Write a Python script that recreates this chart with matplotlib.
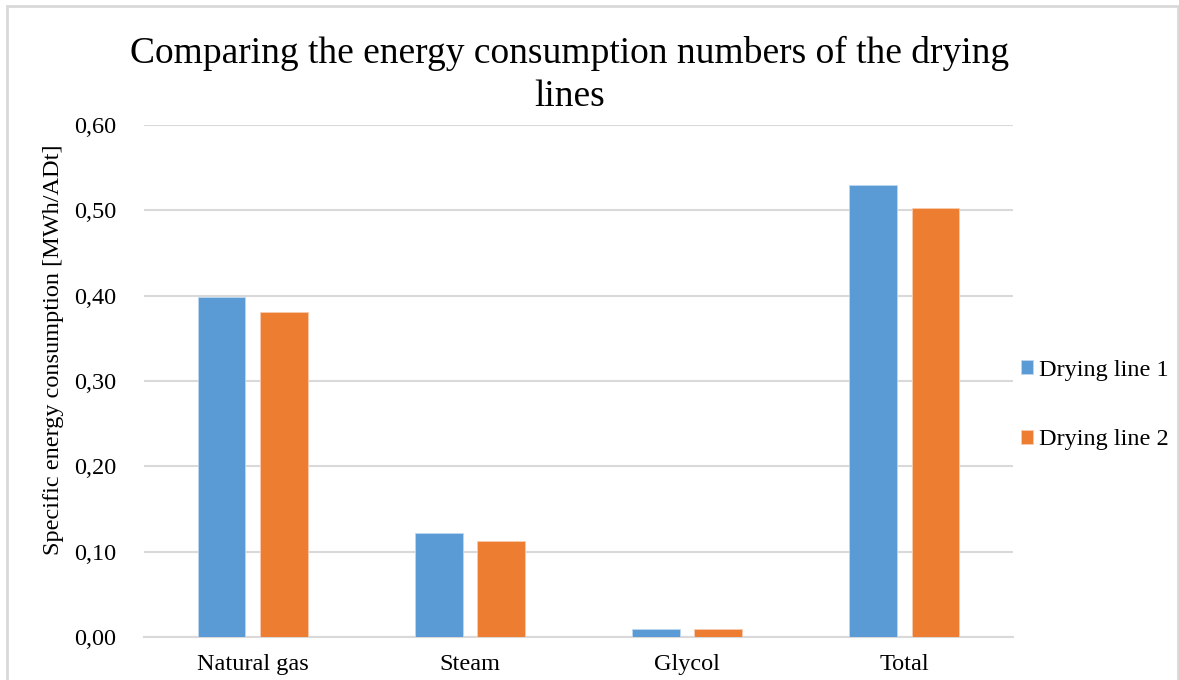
import matplotlib
matplotlib.use("Agg")
import matplotlib.pyplot as plt
from matplotlib.patches import Rectangle
import numpy as np

# Specific energy consumption per drying line, MWh/ADt
categories = ["Natural gas", "Steam", "Glycol", "Total"]
line_1 = [0.398, 0.122, 0.0094, 0.530]
line_2 = [0.381, 0.1125, 0.0095, 0.503]
series_names = ["Drying line 1", "Drying line 2"]
y_ticks = [0.0, 0.1, 0.2, 0.3, 0.4, 0.5, 0.6]

BLUE = "#5B9BD5"
ORANGE = "#ED7D31"
GRID = "#D9D9D9"
FS = 17.5

plt.rcParams["font.family"] = ["Liberation Serif", "DejaVu Serif"]

fig = plt.figure(figsize=(11.79, 6.8), dpi=100)
ax = fig.add_axes([144 / 1179, 43 / 680, 869 / 1179, 512 / 680])

x = np.arange(len(categories))
width = 0.22
offset = 0.143
ax.bar(x - offset, line_1, width, color=BLUE, edgecolor="#BDD7EE",
       linewidth=0.6, label=series_names[0], zorder=3)
ax.bar(x + offset, line_2, width, color=ORANGE, edgecolor="#F8CBAD",
       linewidth=0.6, label=series_names[1], zorder=3)

ax.set_xlim(-0.5, len(categories) - 0.5)
ax.set_ylim(0, 0.6)
ax.set_yticks(y_ticks)
ax.set_yticklabels([f"{v:.2f}".replace(".", ",") for v in y_ticks], fontsize=FS)
ax.set_xticks(x)
ax.set_xticklabels(categories, fontsize=FS)
ax.tick_params(axis="both", length=0)
ax.tick_params(axis="y", pad=20)
ax.tick_params(axis="x", pad=12)
ax.grid(axis="y", color=GRID, linewidth=1.5, zorder=0)
for side in ["top", "right", "left"]:
    ax.spines[side].set_visible(False)
ax.spines["bottom"].set_color(GRID)
ax.spines["bottom"].set_linewidth(1.5)

fig.text(54 / 1179, 1 - 350 / 680, "Specific energy consumption [MWh/ADt]",
         rotation=90, ha="center", va="center", fontsize=FS)

fig.text(570 / 1179, 1 - 75 / 680,
         "Comparing the energy consumption numbers of the drying\nlines",
         ha="center", va="center", fontsize=27, linespacing=1.3)

fig.legend(loc="center left", bbox_to_anchor=(999 / 1179, 1 - 405 / 680),
           frameon=False, fontsize=FS, handlelength=0.5, handleheight=0.5,
           handletextpad=0.25, labelspacing=2.0)

# light chart-area border
fig.patches.append(Rectangle((7 / 1179, -0.01), 1171 / 1179, 1 - 6 / 680 + 0.01,
                             transform=fig.transFigure, fill=False,
                             edgecolor=GRID, linewidth=2))

fig.savefig("out.png", dpi=100)
